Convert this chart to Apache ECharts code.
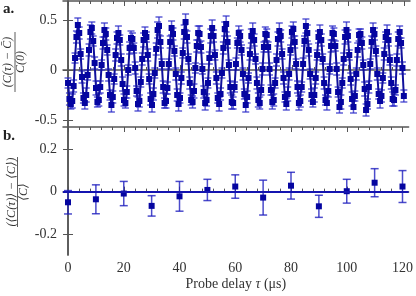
<!DOCTYPE html>
<html><head><meta charset="utf-8">
<script src="https://cdn.jsdelivr.net/npm/echarts@6/dist/echarts.min.js"></script>
<style>html,body{margin:0;padding:0;background:#fff}#c{width:416px;height:296px}</style>
</head><body><div id="c"></div>
<script>
// ---- Panel a: oscillating correlation, sampled every 0.5 us ----
const stepA = 0.5;
const valuesA = [
-0.13,-0.29,-0.34,-0.31,-0.16,0.12,0.33,0.45,0.37,0.16,-0.07,-0.28,-0.33,-0.25,-0.05,0.20,0.38,0.42,0.29,0.07,-0.18,-0.32,-0.30,-0.17,
0.05,0.27,0.40,0.36,0.20,-0.05,-0.25,-0.35,-0.27,-0.09,0.15,0.32,0.37,0.30,0.10,-0.14,-0.30,-0.33,-0.22,0.00,0.22,0.32,0.31,0.22,
0.02,-0.21,-0.34,-0.31,-0.12,0.11,0.30,0.37,0.33,0.15,-0.09,-0.29,-0.35,-0.24,-0.03,0.21,0.40,0.44,0.28,0.06,-0.17,-0.33,-0.31,-0.18,
0.06,0.28,0.42,0.36,0.19,-0.04,-0.25,-0.34,-0.28,-0.08,0.17,0.38,0.48,0.33,0.11,-0.13,-0.30,-0.32,-0.21,0.02,0.24,0.37,0.36,0.23,
0.01,-0.22,-0.33,-0.30,-0.13,0.12,0.34,0.42,0.34,0.15,-0.08,-0.28,-0.34,-0.24,-0.03,0.22,0.41,0.46,0.28,0.05,-0.17,-0.32,-0.33,-0.17,
0.06,0.27,0.37,0.34,0.20,-0.04,-0.24,-0.35,-0.27,-0.08,0.16,0.34,0.39,0.30,0.11,-0.13,-0.30,-0.33,-0.20,0.01,0.23,0.36,0.35,0.23,
0.01,-0.20,-0.32,-0.30,-0.13,0.10,0.31,0.39,0.34,0.16,-0.08,-0.27,-0.34,-0.24,-0.04,0.20,0.38,0.41,0.28,0.06,-0.17,-0.33,-0.31,-0.17,
0.06,0.29,0.44,0.37,0.20,-0.04,-0.25,-0.32,-0.25,-0.08,0.15,0.33,0.38,0.30,0.11,-0.13,-0.30,-0.33,-0.21,0.01,0.24,0.37,0.36,0.24,
0.01,-0.22,-0.37,-0.32,-0.13,0.11,0.33,0.40,0.34,0.15,-0.09,-0.29,-0.37,-0.26,-0.04,0.20,0.35,0.36,0.27,0.05,-0.19,-0.40,-0.34,-0.17,
0.06,0.28,0.40,0.36,0.19,-0.04,-0.24,-0.31,-0.26,-0.08,0.16,0.33,0.38,0.30,0.10,-0.13,-0.29,-0.30,-0.20,0.10,0.31,0.38,0.27,0.02,
-0.26
];
const errA = [
0.05,0.06,0.05,0.07,0.06,0.05,0.06,0.07,0.06,0.05,0.06,0.05,0.06,0.07,0.05,0.06,0.07,0.06,0.05,0.06,0.07,0.05,0.06,0.06,
0.05,0.06,0.07,0.06,0.05,0.06,0.05,0.07,0.06,0.05,0.06,0.06,0.07,0.05,0.06,0.07,0.06,0.05,0.06,0.05,0.06,0.07,0.06,0.05,
0.06,0.05,0.07,0.06,0.05,0.06,0.07,0.06,0.05,0.06,0.05,0.06,0.07,0.06,0.05,0.06,0.08,0.09,0.06,0.05,0.06,0.05,0.07,0.06,
0.05,0.06,0.07,0.06,0.05,0.06,0.06,0.07,0.05,0.06,0.05,0.07,0.08,0.06,0.05,0.06,0.05,0.06,0.07,0.05,0.06,0.07,0.08,0.06,
0.05,0.06,0.07,0.06,0.05,0.06,0.07,0.08,0.06,0.05,0.06,0.05,0.07,0.06,0.05,0.06,0.07,0.08,0.06,0.05,0.06,0.07,0.06,0.05,
0.06,0.05,0.07,0.06,0.05,0.06,0.05,0.07,0.06,0.05,0.06,0.07,0.08,0.06,0.05,0.06,0.07,0.06,0.05,0.06,0.05,0.07,0.06,0.05,
0.06,0.05,0.07,0.06,0.05,0.06,0.07,0.08,0.06,0.05,0.06,0.05,0.06,0.07,0.06,0.05,0.06,0.07,0.06,0.05,0.06,0.07,0.06,0.05,
0.06,0.05,0.07,0.08,0.06,0.05,0.06,0.05,0.07,0.06,0.05,0.06,0.07,0.06,0.05,0.06,0.05,0.07,0.06,0.05,0.06,0.07,0.06,0.05,
0.06,0.05,0.06,0.07,0.05,0.06,0.07,0.08,0.06,0.05,0.06,0.07,0.06,0.05,0.06,0.07,0.06,0.05,0.06,0.05,0.07,0.06,0.05,0.06,
0.05,0.06,0.07,0.06,0.05,0.06,0.05,0.07,0.06,0.05,0.06,0.05,0.07,0.06,0.05,0.06,0.07,0.06,0.05,0.06,0.07,0.06,0.05,0.06,
0.06
];
// ---- Panel b: averaged deviation every 10 us ----
const delaysB = [0,10,20,30,40,50,60,70,80,90,100,110,120];
const valuesB = [-0.050,-0.036,-0.009,-0.067,-0.022,0.008,0.024,-0.028,0.028,-0.069,0.002,0.042,0.024];
const errB    = [0.055,0.068,0.057,0.048,0.070,0.050,0.055,0.082,0.063,0.052,0.056,0.066,0.075];
const fitLevelB = 0;
// ---- ticks ----
const majorX = [0,20,40,60,80,100,120];
const minorX = [4,8,12,16,24,28,32,36,44,48,52,56,64,68,72,76,84,88,92,96,104,108,112,116];
const ticksYA = [-0.5,0,0.5];
const ticksYB = [-0.2,0,0.2];

const SERIF = '"Liberation Serif","DejaVu Serif",serif';
const AX = '#555';
const ptsA = valuesA.map((v,i)=>[i*stepA, v]);
const barsA = valuesA.map((v,i)=>[i*stepA, v-errA[i], v+errA[i]]);
const ptsB = valuesB.map((v,i)=>[delaysB[i], v]);
const barsB = valuesB.map((v,i)=>[delaysB[i], v-errB[i], v+errB[i]]);

function xAxes(grid, showLabels){
  const base = {type:'value', gridIndex:grid, min:-1.8, max:122.2, splitLine:{show:false}};
  return [
    Object.assign({}, base, {position:'bottom', axisLine:{show:true, lineStyle:{color:AX,width:1.5}},
      axisTick:{show:true, inside:true, length:5, customValues:majorX, lineStyle:{color:AX,width:1}},
      axisLabel:{show:showLabels, customValues:majorX, margin:6, color:'#333', fontFamily:SERIF, fontSize:14},
      name: showLabels ? 'Probe delay {i|τ} (μs)' : '', nameLocation:'middle', nameGap:22,
      nameTextStyle:{color:'#333', fontFamily:SERIF, fontSize:14, rich:{i:{fontStyle:'italic', fontFamily:SERIF, fontSize:14, color:'#333'}}}}),
    Object.assign({}, base, {position:'bottom', axisLine:{show:false},
      axisTick:{show:true, inside:true, length:3, customValues:minorX, lineStyle:{color:AX,width:1}}, axisLabel:{show:false}}),
    Object.assign({}, base, {position:'top', axisLine:{show:true, lineStyle:{color:AX,width:1.5}},
      axisTick:{show:true, inside:true, length:5, customValues:majorX, lineStyle:{color:AX,width:1}}, axisLabel:{show:false}}),
    Object.assign({}, base, {position:'top', axisLine:{show:false},
      axisTick:{show:true, inside:true, length:3, customValues:minorX, lineStyle:{color:AX,width:1}}, axisLabel:{show:false}})
  ];
}
function yAxes(grid, mn, mx, ticks){
  const base = {type:'value', gridIndex:grid, min:mn, max:mx, splitLine:{show:false},
    axisLine:{show:true, lineStyle:{color:AX,width:1.5}}};
  return [
    Object.assign({}, base, {position:'left', axisTick:{show:true, inside:true, length:5, customValues:ticks, lineStyle:{color:AX}},
      axisLabel:{show:true, customValues:ticks, margin:6, color:'#333', fontFamily:SERIF, fontSize:14, formatter:v=>String(v)}}),
    Object.assign({}, base, {position:'right', axisTick:{show:true, inside:true, length:5, customValues:ticks, lineStyle:{color:AX}},
      axisLabel:{show:false}})
  ];
}
function errRender(capW, color, lw){
  return function(params, api){
    const x = api.value(0);
    const p1 = api.coord([x, api.value(1)]);
    const p2 = api.coord([x, api.value(2)]);
    const st = {stroke:color, lineWidth:lw};
    return {type:'group', children:[
      {type:'line', shape:{x1:p1[0],y1:p1[1],x2:p2[0],y2:p2[1]}, style:st},
      {type:'line', shape:{x1:p1[0]-capW/2,y1:p1[1],x2:p1[0]+capW/2,y2:p1[1]}, style:st},
      {type:'line', shape:{x1:p2[0]-capW/2,y1:p2[1],x2:p2[0]+capW/2,y2:p2[1]}, style:st}
    ]};
  };
}
const chart = echarts.init(document.getElementById('c'), null, {renderer:'canvas'});
const numStyle = {font:'italic 12px ' + SERIF, fill:'#333', align:'center', verticalAlign:'middle'};
chart.setOption({
  animation:false,
  grid:[{left:63, top:1, width:347, height:126}, {left:63, top:127, width:347, height:128}],
  xAxis: xAxes(0,false).concat(xAxes(1,true)),
  yAxis: yAxes(0,-0.57,0.69,ticksYA).concat(yAxes(1,-0.298,0.304,ticksYB)),
  series:[
    {type:'custom', xAxisIndex:0, yAxisIndex:0, data:barsA, renderItem:errRender(7,'rgba(40,40,200,0.75)',1.5), z:2, encode:{x:0,y:[1,2]}},
    {type:'line', xAxisIndex:0, yAxisIndex:0, data:ptsA, symbol:'rect', symbolSize:6, showAllSymbol:true,
      itemStyle:{color:'#0505a0'}, lineStyle:{color:'#10109c', width:2}, z:3},
    {type:'custom', xAxisIndex:4, yAxisIndex:2, data:barsB, renderItem:errRender(8,'rgba(30,30,190,0.8)',1.5), z:2, encode:{x:0,y:[1,2]}},
    {type:'line', xAxisIndex:4, yAxisIndex:2, data:ptsB, symbol:'rect', symbolSize:6, showAllSymbol:true,
      itemStyle:{color:'#0505a0'}, lineStyle:{width:0}, z:4,
      markLine:{silent:true, symbol:'none', label:{show:false}, lineStyle:{color:'#1414b0', width:2, type:'solid'},
        data:[{yAxis:fitLevelB}]}}
  ],
  graphic:[
    {type:'text', left:3, top:2, style:{text:'a.', font:'bold 15px ' + SERIF, fill:'#222'}},
    {type:'text', left:3, top:129, style:{text:'b.', font:'bold 15px ' + SERIF, fill:'#222'}},
    {type:'group', x:15, y:62, rotation:Math.PI/2, children:[
      {type:'text', x:0, y:-7, style:Object.assign({}, numStyle, {text:'(C(τ) − C̄)'})},
      {type:'line', shape:{x1:-30,y1:0,x2:30,y2:0}, style:{stroke:'#333', lineWidth:0.8}},
      {type:'text', x:0, y:6, style:Object.assign({}, numStyle, {text:'C(0)'})}
    ]},
    {type:'group', x:17.5, y:192, rotation:Math.PI/2, children:[
      {type:'text', x:0, y:-6, style:Object.assign({}, numStyle, {text:'(⟨C(τ)⟩ − ⟨C⟩)'})},
      {type:'line', shape:{x1:-35,y1:0,x2:35,y2:0}, style:{stroke:'#333', lineWidth:0.8}},
      {type:'text', x:0, y:6, style:Object.assign({}, numStyle, {text:'⟨C⟩'})}
    ]}
  ]
});
</script></body></html>
